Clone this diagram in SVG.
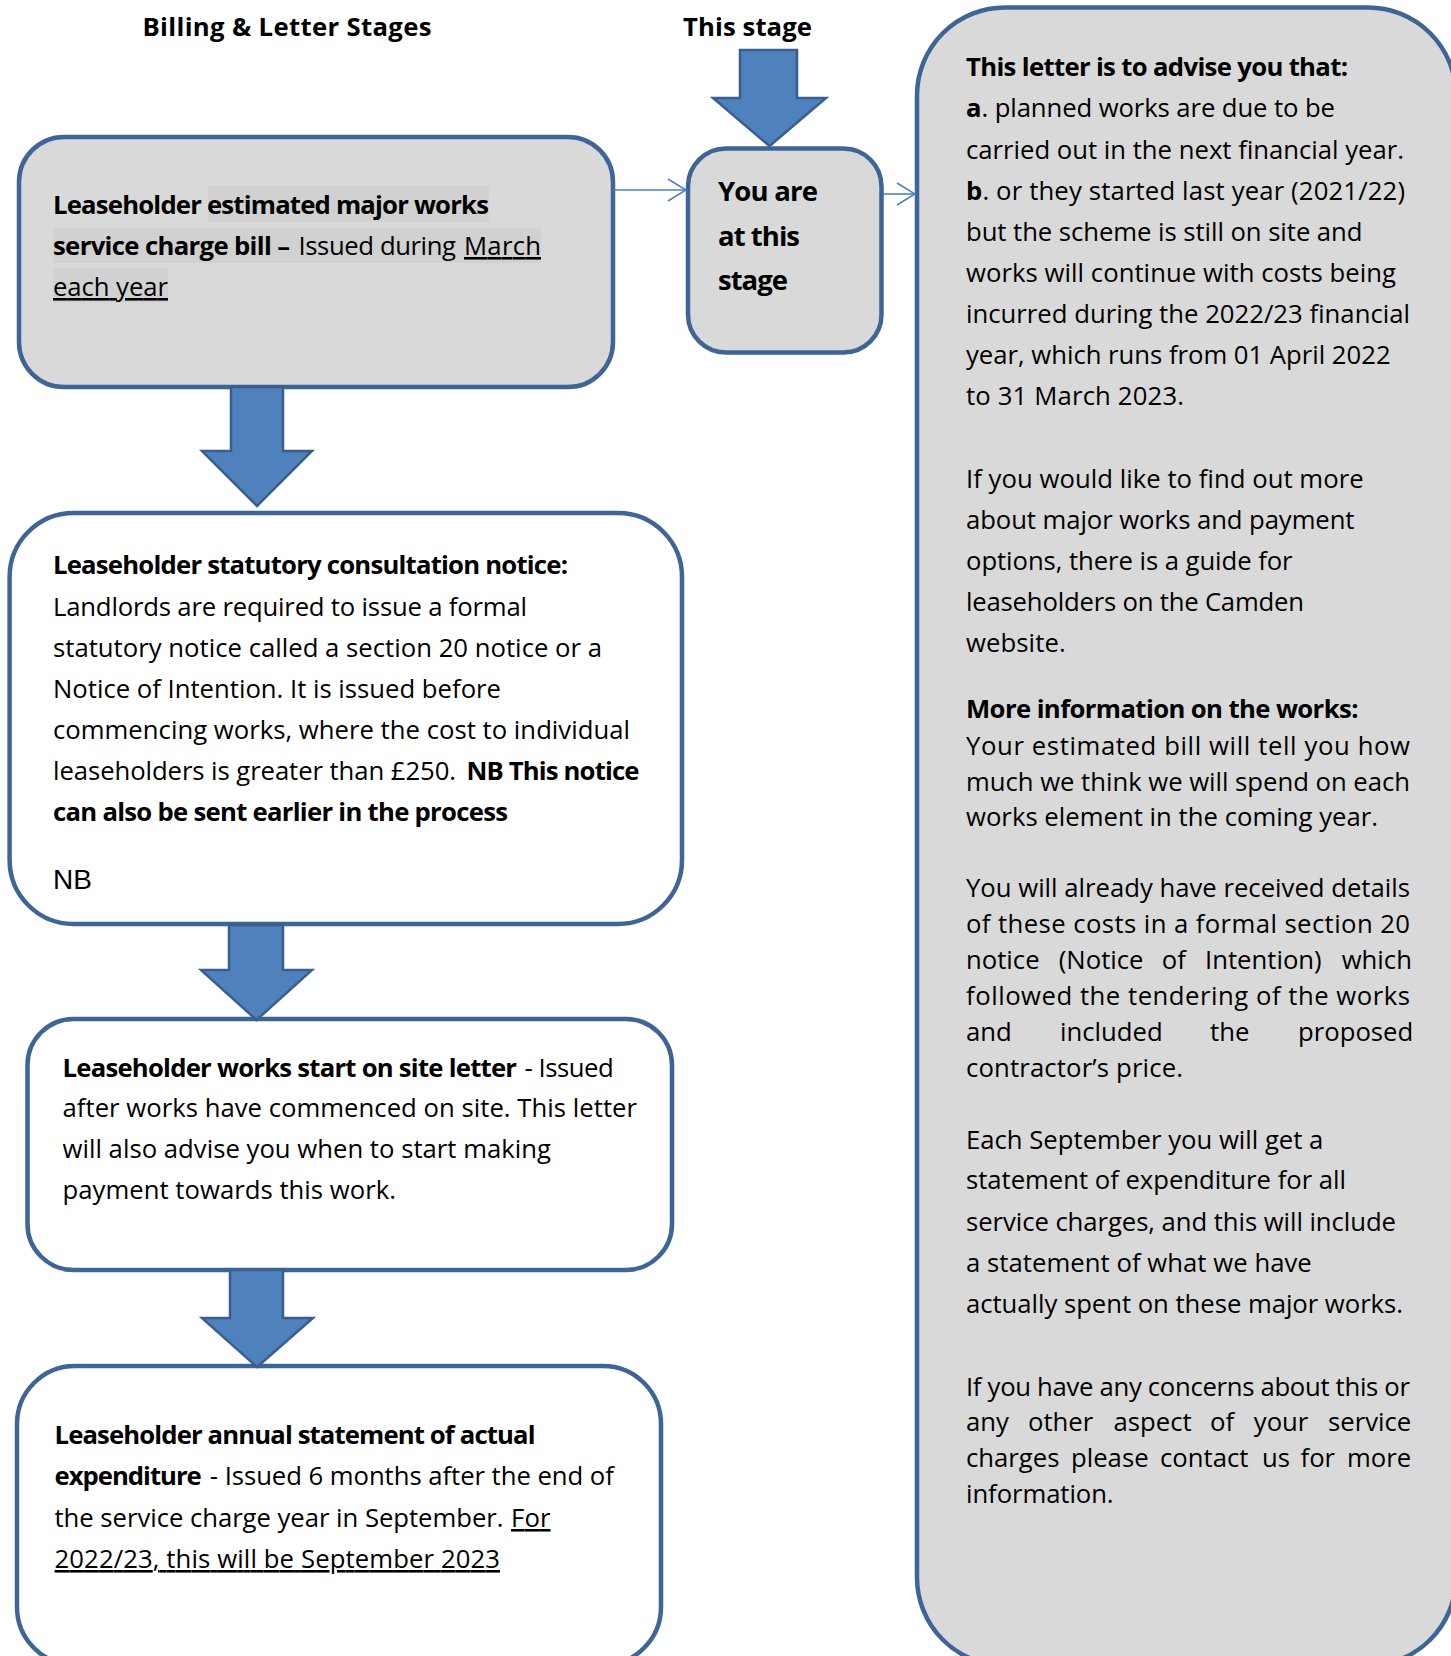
<svg xmlns="http://www.w3.org/2000/svg" width="1451" height="1656" viewBox="0 0 1451 1656">
<defs>
<style>
.t{font-family:"Open Sans","Noto Sans",sans-serif;font-size:25.7px;fill:#000}
.b{font-weight:700}
.big{font-size:27.5px}
.u{text-decoration:underline}
.nb{font-family:"Liberation Sans",Arial,sans-serif;font-size:28px;fill:#000}
.box{stroke:#3e6596;stroke-width:4.5}
.gray{fill:#d9d9d9}
.white{fill:#ffffff}
.hl{fill:#d1d1d1}
.blk{fill:#4f81bd;stroke:#3a5f8f;stroke-width:2.5;stroke-linejoin:miter}
.thin{stroke:#4f81bd;stroke-width:1.6;fill:none}
</style>
<marker id="open" viewBox="0 0 20 24" refX="19" refY="12" markerWidth="20" markerHeight="24" markerUnits="userSpaceOnUse" orient="auto">
<path d="M1,1 L19,12 L1,23" fill="none" stroke="#4f81bd" stroke-width="1.6"/>
</marker>
</defs>
<rect width="1451" height="1656" fill="#ffffff"/>

<g id="titles">
<text class="t b" x="142.5" y="36" textLength="289" lengthAdjust="spacing">Billing &amp; Letter Stages</text>
<text class="t b" x="683" y="36" textLength="129" lengthAdjust="spacing">This stage</text>
</g>

<g id="node-info-panel">
<rect class="box gray" x="917" y="7.5" width="539" height="1658" rx="88" ry="88"/>
<text class="t b" x="966" y="76" textLength="382" lengthAdjust="spacing">This letter is to advise you that:</text>
<text class="t" x="966" y="117" textLength="369" lengthAdjust="spacing"><tspan class="b">a</tspan>. planned works are due to be</text>
<text class="t" x="966" y="158.5" textLength="438" lengthAdjust="spacing">carried out in the next financial year.</text>
<text class="t" x="966" y="199.5" textLength="439" lengthAdjust="spacing"><tspan class="b">b</tspan>. or they started last year (2021/22)</text>
<text class="t" x="966" y="241" textLength="396.5" lengthAdjust="spacing">but the scheme is still on site and</text>
<text class="t" x="966" y="282" textLength="430" lengthAdjust="spacing">works will continue with costs being</text>
<text class="t" x="966" y="323" textLength="444" lengthAdjust="spacing">incurred during the 2022/23 financial</text>
<text class="t" x="966" y="364" textLength="424.6" lengthAdjust="spacing">year, which runs from 01 April 2022</text>
<text class="t" x="966" y="404.5" textLength="218" lengthAdjust="spacing">to 31 March 2023.</text>
<text class="t" x="966" y="487.5" textLength="397.6" lengthAdjust="spacing">If you would like to find out more</text>
<text class="t" x="966" y="529" textLength="388.5" lengthAdjust="spacing">about major works and payment</text>
<text class="t" x="966" y="570" textLength="326.6" lengthAdjust="spacing">options, there is a guide for</text>
<text class="t" x="966" y="611" textLength="338" lengthAdjust="spacing">leaseholders on the Camden</text>
<text class="t" x="966" y="652" textLength="99.7" lengthAdjust="spacing">website.</text>
<text class="t b" x="966" y="718" textLength="392.5" lengthAdjust="spacing">More information on the works:</text>
<text class="t" x="966" y="755" textLength="444" lengthAdjust="spacing">Your estimated bill will tell you how</text>
<text class="t" x="966" y="791" textLength="444" lengthAdjust="spacing">much we think we will spend on each</text>
<text class="t" x="966" y="826" textLength="412" lengthAdjust="spacing">works element in the coming year.</text>
<text class="t" x="966" y="897" textLength="444" lengthAdjust="spacing">You will already have received details</text>
<text class="t" x="966" y="933" textLength="444" lengthAdjust="spacing">of these costs in a formal section 20</text>
<text class="t" y="969"><tspan x="966">notice</tspan> <tspan x="1058.8">(Notice</tspan> <tspan x="1161.8">of</tspan> <tspan x="1205">Intention)</tspan> <tspan x="1341.7">which</tspan></text>
<text class="t" x="966" y="1005" textLength="444" lengthAdjust="spacing">followed the tendering of the works</text>
<text class="t" y="1041"><tspan x="966">and</tspan> <tspan x="1060">included</tspan> <tspan x="1210">the</tspan> <tspan x="1298">proposed</tspan></text>
<text class="t" x="966" y="1077" textLength="217" lengthAdjust="spacing">contractor’s price.</text>
<text class="t" x="966" y="1148.5" textLength="357.4" lengthAdjust="spacing">Each September you will get a</text>
<text class="t" x="966" y="1189" textLength="380" lengthAdjust="spacing">statement of expenditure for all</text>
<text class="t" x="966" y="1231" textLength="430" lengthAdjust="spacing">service charges, and this will include</text>
<text class="t" x="966" y="1272" textLength="345.8" lengthAdjust="spacing">a statement of what we have</text>
<text class="t" x="966" y="1313" textLength="437" lengthAdjust="spacing">actually spent on these major works.</text>
<text class="t" x="966" y="1396" textLength="444" lengthAdjust="spacing">If you have any concerns about this or</text>
<text class="t" y="1431"><tspan x="966">any</tspan> <tspan x="1028">other</tspan> <tspan x="1113.6">aspect</tspan> <tspan x="1210">of</tspan> <tspan x="1253.8">your</tspan> <tspan x="1328">service</tspan></text>
<text class="t" y="1467"><tspan x="966">charges</tspan> <tspan x="1071">please</tspan> <tspan x="1160">contact</tspan> <tspan x="1262">us</tspan> <tspan x="1300.5">for</tspan> <tspan x="1347">more</tspan></text>
<text class="t" x="966" y="1503" textLength="147.6" lengthAdjust="spacing">information.</text>
</g>

<g id="node-estimated-bill">
<rect class="box gray" x="19" y="137" width="594" height="250" rx="45" ry="45"/>
<rect class="hl" x="208" y="186" width="281" height="36"/>
<rect class="hl" x="53" y="227.5" width="488" height="35.5"/>
<rect class="hl" x="53" y="268" width="115" height="34.5"/>
<text class="t b" x="53" y="214" textLength="436" lengthAdjust="spacing">Leaseholder estimated major works</text>
<text class="t" y="255"><tspan class="b" x="53" textLength="237" lengthAdjust="spacing">service charge bill –</tspan> <tspan x="298.5" textLength="157.5" lengthAdjust="spacing">Issued during</tspan> <tspan class="u" x="464" textLength="77" lengthAdjust="spacing">March</tspan></text>
<text class="t u" x="53" y="296" textLength="115" lengthAdjust="spacing">each year</text>
</g>

<g id="node-current-stage">
<rect class="box gray" x="688" y="148.5" width="193.5" height="204" rx="38" ry="38"/>
<text class="t b big" x="718" y="201" textLength="100" lengthAdjust="spacing">You are</text>
<text class="t b big" x="718" y="246" textLength="82" lengthAdjust="spacing">at this</text>
<text class="t b big" x="718" y="290" textLength="70" lengthAdjust="spacing">stage</text>
</g>

<g id="node-consultation-notice">
<rect class="box white" x="9.6" y="513" width="672.4" height="411" rx="64" ry="64"/>
<text class="t b" x="53" y="574" textLength="515" lengthAdjust="spacing">Leaseholder statutory consultation notice:</text>
<text class="t" x="53" y="616" textLength="474" lengthAdjust="spacing">Landlords are required to issue a formal</text>
<text class="t" x="53" y="657" textLength="549" lengthAdjust="spacing">statutory notice called a section 20 notice or a</text>
<text class="t" x="53" y="698" textLength="448" lengthAdjust="spacing">Notice of Intention. It is issued before</text>
<text class="t" x="53" y="739" textLength="577" lengthAdjust="spacing">commencing works, where the cost to individual</text>
<text class="t" y="780"><tspan x="53" textLength="403" lengthAdjust="spacing">leaseholders is greater than £250.</tspan> <tspan class="b" x="466.5" textLength="173" lengthAdjust="spacing">NB This notice</tspan></text>
<text class="t b" x="53" y="821" textLength="455" lengthAdjust="spacing">can also be sent earlier in the process</text>
<text class="nb" x="53" y="889">NB</text>
</g>

<g id="node-start-on-site">
<rect class="box white" x="27.5" y="1019" width="644.5" height="251" rx="46" ry="46"/>
<text class="t" y="1077"><tspan class="b" x="62.5" textLength="454.5" lengthAdjust="spacing">Leaseholder works start on site letter</tspan> <tspan x="524.6" textLength="89" lengthAdjust="spacing">- Issued</tspan></text>
<text class="t" x="62.5" y="1117" textLength="574.5" lengthAdjust="spacing">after works have commenced on site. This letter</text>
<text class="t" x="62.5" y="1158" textLength="488.5" lengthAdjust="spacing">will also advise you when to start making</text>
<text class="t" x="62.5" y="1199" textLength="333.5" lengthAdjust="spacing">payment towards this work.</text>
</g>

<g id="node-annual-statement">
<rect class="box white" x="17" y="1366" width="644" height="299" rx="58" ry="58"/>
<text class="t b" x="54.5" y="1444" textLength="481" lengthAdjust="spacing">Leaseholder annual statement of actual</text>
<text class="t" y="1485"><tspan class="b" x="54.5" textLength="147.3" lengthAdjust="spacing">expenditure</tspan> <tspan x="209.8" textLength="404" lengthAdjust="spacing">- Issued 6 months after the end of</tspan></text>
<text class="t" y="1527"><tspan x="54.5" textLength="449" lengthAdjust="spacing">the service charge year in September.</tspan> <tspan class="u" x="511" textLength="39.5" lengthAdjust="spacing">For</tspan></text>
<text class="t u" x="54.5" y="1568" textLength="445.5" lengthAdjust="spacing">2022/23, this will be September 2023</text>
</g>

<g id="connectors">
<polygon class="blk" points="740,50 797,50 797,98 826,98 769.5,146 713,98 740,98"/>
<polygon class="blk" points="231,387 283,387 283,451 312,451 257,506 202,451 231,451"/>
<polygon class="blk" points="229,925 283,925 283,970 312,970 256.5,1020 201,970 229,970"/>
<polygon class="blk" points="230,1270 283,1270 283,1318 313,1318 257,1367 202,1318 230,1318"/>
<path class="thin" d="M613,190 L686,190" marker-end="url(#open)"/>
<path class="thin" d="M883,194 L915,194" marker-end="url(#open)"/>
</g>
</svg>
